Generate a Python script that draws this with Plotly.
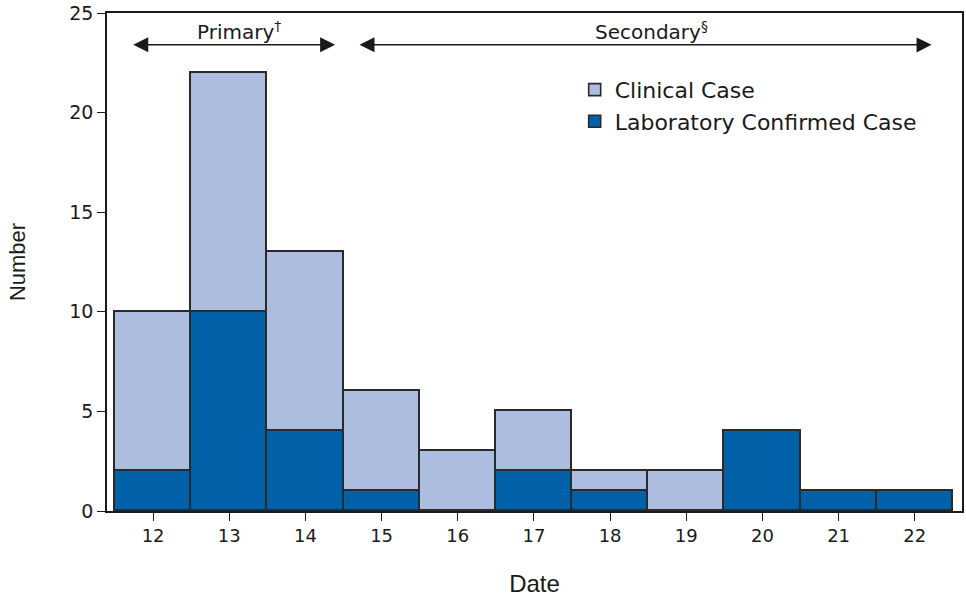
import plotly.graph_objects as go

dates = [12, 13, 14, 15, 16, 17, 18, 19, 20, 21, 22]
lab_confirmed = [2, 10, 4, 1, 0, 2, 1, 0, 4, 1, 1]
clinical = [8, 12, 9, 5, 3, 3, 1, 2, 0, 0, 0]
y_ticks = [0, 5, 10, 15, 20, 25]

LIGHT = "#adbde0"
DARK = "#0060a8"
EDGE = "#2a2a2a"
INK = "#1a1a1a"
WIDE = "DejaVu Sans, Verdana, sans-serif"
REG = "Liberation Sans, Arial, sans-serif"

fig = go.Figure()
fig.add_trace(go.Bar(x=dates, y=lab_confirmed, name="Laboratory Confirmed Case",
                     marker=dict(color=DARK, line=dict(color=EDGE, width=1.6))))
fig.add_trace(go.Bar(x=dates, y=clinical, name="Clinical Case",
                     marker=dict(color=LIGHT, line=dict(color=EDGE, width=1.6))))

ann = []
for x0, x1 in [(11.74, 14.41), (14.71, 22.24)]:
    ann.append(dict(x=x0, y=23.4, ax=x1, ay=23.4, xref="x", yref="y", axref="x", ayref="y",
                    showarrow=True, arrowhead=2, startarrowhead=2, arrowside="end+start",
                    arrowsize=2.0, startarrowsize=2.0, arrowwidth=1.5, arrowcolor=INK, text=""))
ann.append(dict(x=13.13, y=24.1, xref="x", yref="y", showarrow=False,
                text="Primary<sup>†</sup>", font=dict(family=WIDE, size=20, color=INK)))
ann.append(dict(x=18.55, y=24.1, xref="x", yref="y", showarrow=False,
                text="Secondary<sup>§</sup>", font=dict(family=WIDE, size=20, color=INK)))

fig.update_layout(
    barmode="stack", bargap=0,
    width=966, height=597,
    margin=dict(l=107, r=2, t=12, b=86),
    paper_bgcolor="white", plot_bgcolor="white",
    annotations=ann,
    legend=dict(x=0.547, y=0.888, xanchor="left", yanchor="top", traceorder="reversed",
                font=dict(family=WIDE, size=22, color=INK), bgcolor="rgba(0,0,0,0)",
                itemwidth=30, tracegroupgap=0),
    showlegend=True,
)
fig.update_xaxes(range=[11.395, 22.62], tickvals=dates, ticks="outside", ticklen=8,
                 tickcolor=INK, showline=True, linecolor=INK, linewidth=1.5,
                 mirror=True, showgrid=False, zeroline=False,
                 tickfont=dict(family=WIDE, size=18, color=INK),
                 title=dict(text="Date", font=dict(family=REG, size=24, color=INK), standoff=31))
fig.update_yaxes(range=[0, 25], tickvals=y_ticks, ticks="outside", ticklen=8,
                 tickcolor=INK, showline=True, linecolor=INK, linewidth=1.5,
                 mirror=True, showgrid=False, zeroline=False,
                 tickfont=dict(family=WIDE, size=19, color=INK),
                 title=dict(text="Number", font=dict(family=REG, size=22, color=INK), standoff=38))

fig.write_html("out.html", config={"displayModeBar": False},
               post_script="document.body.style.margin='0';document.body.style.overflow='hidden';")
